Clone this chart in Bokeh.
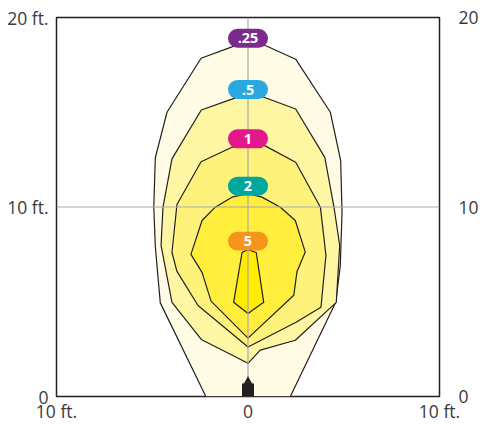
from bokeh.plotting import figure
from bokeh.models import Range1d, LinearAxis, FixedTicker
from bokeh.core.properties import value
from bokeh.embed import file_html
from bokeh.resources import INLINE

# ---- axis ticks / labels ----
x_ticks = [-10, 0, 10]
x_tick_labels = ["10 ft.", "0", "10 ft."]
y_ticks = [0, 10, 20]
y_tick_labels_left = ["0", "10 ft.", "20 ft."]
y_tick_labels_right = ["0", "10", "20"]

# ---- iso-footcandle levels ----
levels = [".25", ".5", "1", "2", "5"]
label_y = [18.9, 16.2, 13.6, 11.1, 8.2]

# contour outlines (ft)
c025_x = [-2.2, -4.58, -4.84, -4.92, -4.84, -4.23, -2.45, -0.84, 0.0, 0.73, 2.49, 4.30, 4.84, 4.91, 4.82, 4.58, 2.21]
c025_y = [0.0, 4.94, 7.9, 10.0, 12.6, 15.0, 17.85, 18.45, 18.8, 18.6, 17.8, 15.0, 12.45, 9.7, 6.9, 4.97, 0.0]

c05_x = [-0.84, -2.44, -3.97, -4.44, -4.54, -3.97, -2.44, 0.0, 0.64, 2.47, 4.61, 4.79, 4.49, 4.01, 2.49, 0.87, 0.0]
c05_y = [15.69, 15.12, 12.54, 9.99, 7.97, 4.97, 3.01, 1.75, 2.45, 2.97, 4.97, 7.97, 9.99, 12.62, 15.17, 15.78, 16.0]

c1_x = [-0.84, -2.45, -3.71, -3.97, -3.71, -2.61, 0.0, 2.51, 3.81, 4.07, 3.78, 2.49, 0.87, 0.0]
c1_y = [13.15, 12.39, 10.13, 7.6, 6.6, 4.8, 2.61, 3.92, 4.71, 7.45, 9.99, 12.36, 13.24, 13.4]

c2_x = [-0.84, -1.71, -2.40, -2.98, -2.40, -1.93, 0.0, 2.39, 2.56, 2.99, 2.47, 1.69, 0.73, 0.0]
c2_y = [10.52, 9.99, 9.29, 7.5, 6.55, 5.03, 3.08, 5.34, 6.6, 7.62, 9.29, 9.99, 10.52, 10.7]

c5_x = [-0.31, -0.75, 0.0, 0.82, 0.43, 0.0]
c5_y = [7.6, 4.97, 4.38, 4.97, 7.6, 7.75]

fixture_x = [0.0]
fixture_y = [0.0]

contours_x = [c025_x, c05_x, c1_x, c2_x, c5_x]
contours_y = [c025_y, c05_y, c1_y, c2_y, c5_y]

fill_colors = ["#FFFBE4", "#FFF6A4", "#FFF27A", "#FFEF3C", "#FFEC00"]
badge_colors = ["#7D2A8C", "#2CA8E0", "#E3198B", "#00A79D", "#F7941D"]

FONT = "Open Sans"
TXT = "#3a3a3a"

p = figure(width=482, height=425,
           x_range=Range1d(-10, 10), y_range=Range1d(0, 20),
           output_backend="svg", toolbar_location=None,
           min_border_left=56, min_border_right=43,
           min_border_top=17, min_border_bottom=28)
p.background_fill_color = "white"
p.border_fill_color = "white"
p.grid.visible = False
p.outline_line_color = "#231f20"
p.outline_line_width = 1.5

# filled contours
p.patches(contours_x, contours_y, fill_color=fill_colors,
          line_color="#231f20", line_width=1.2)

# reference lines through the centre ticks
p.segment(x0=[x_ticks[1], x_ticks[0]], y0=[y_ticks[0], y_ticks[1]],
          x1=[x_ticks[1], x_ticks[2]], y1=[y_ticks[2], y_ticks[1]],
          line_color="#a7a9ac", line_width=1.2)

# fixture symbol
p.rect(x=fixture_x, y=fixture_y, width=12, height=26,
       width_units="screen", height_units="screen",
       fill_color="#231f20", line_color=None)
p.scatter(x=fixture_x, y=[fy + 0.76 for fy in fixture_y], marker="triangle",
          size=10, fill_color="#231f20", line_color=None)

# level badges
half_w = 1.045
half_h = 0.5
p.quad(left=[-half_w] * len(levels), right=[half_w] * len(levels),
       bottom=[v - half_h for v in label_y], top=[v + half_h for v in label_y],
       fill_color=badge_colors, line_color=None, border_radius=10)
p.text(x=[0.0] * len(levels), y=label_y, text=levels,
       text_align="center", text_baseline="middle",
       text_color="white", text_font=value(FONT), text_font_style="bold",
       text_font_size="14.5px")

# axes
def style_axis(ax, ticks, labels, standoff):
    ax.ticker = FixedTicker(ticks=ticks)
    ax.major_label_overrides = {t: l for t, l in zip(ticks, labels)}
    ax.axis_line_color = None
    ax.major_tick_line_color = None
    ax.minor_tick_line_color = None
    ax.major_tick_out = 0
    ax.major_tick_in = 0
    ax.minor_tick_out = 0
    ax.minor_tick_in = 0
    ax.major_label_text_font = FONT
    ax.major_label_text_font_size = "17.5px"
    ax.major_label_text_color = TXT
    ax.major_label_standoff = standoff

style_axis(p.yaxis[0], y_ticks, y_tick_labels_left, 8)
right_axis = LinearAxis()
style_axis(right_axis, y_ticks, y_tick_labels_right, 19)
p.add_layout(right_axis, "right")
style_axis(p.xaxis[0], x_ticks, x_tick_labels, 2)

open("out.html", "w").write(file_html(p, INLINE))
